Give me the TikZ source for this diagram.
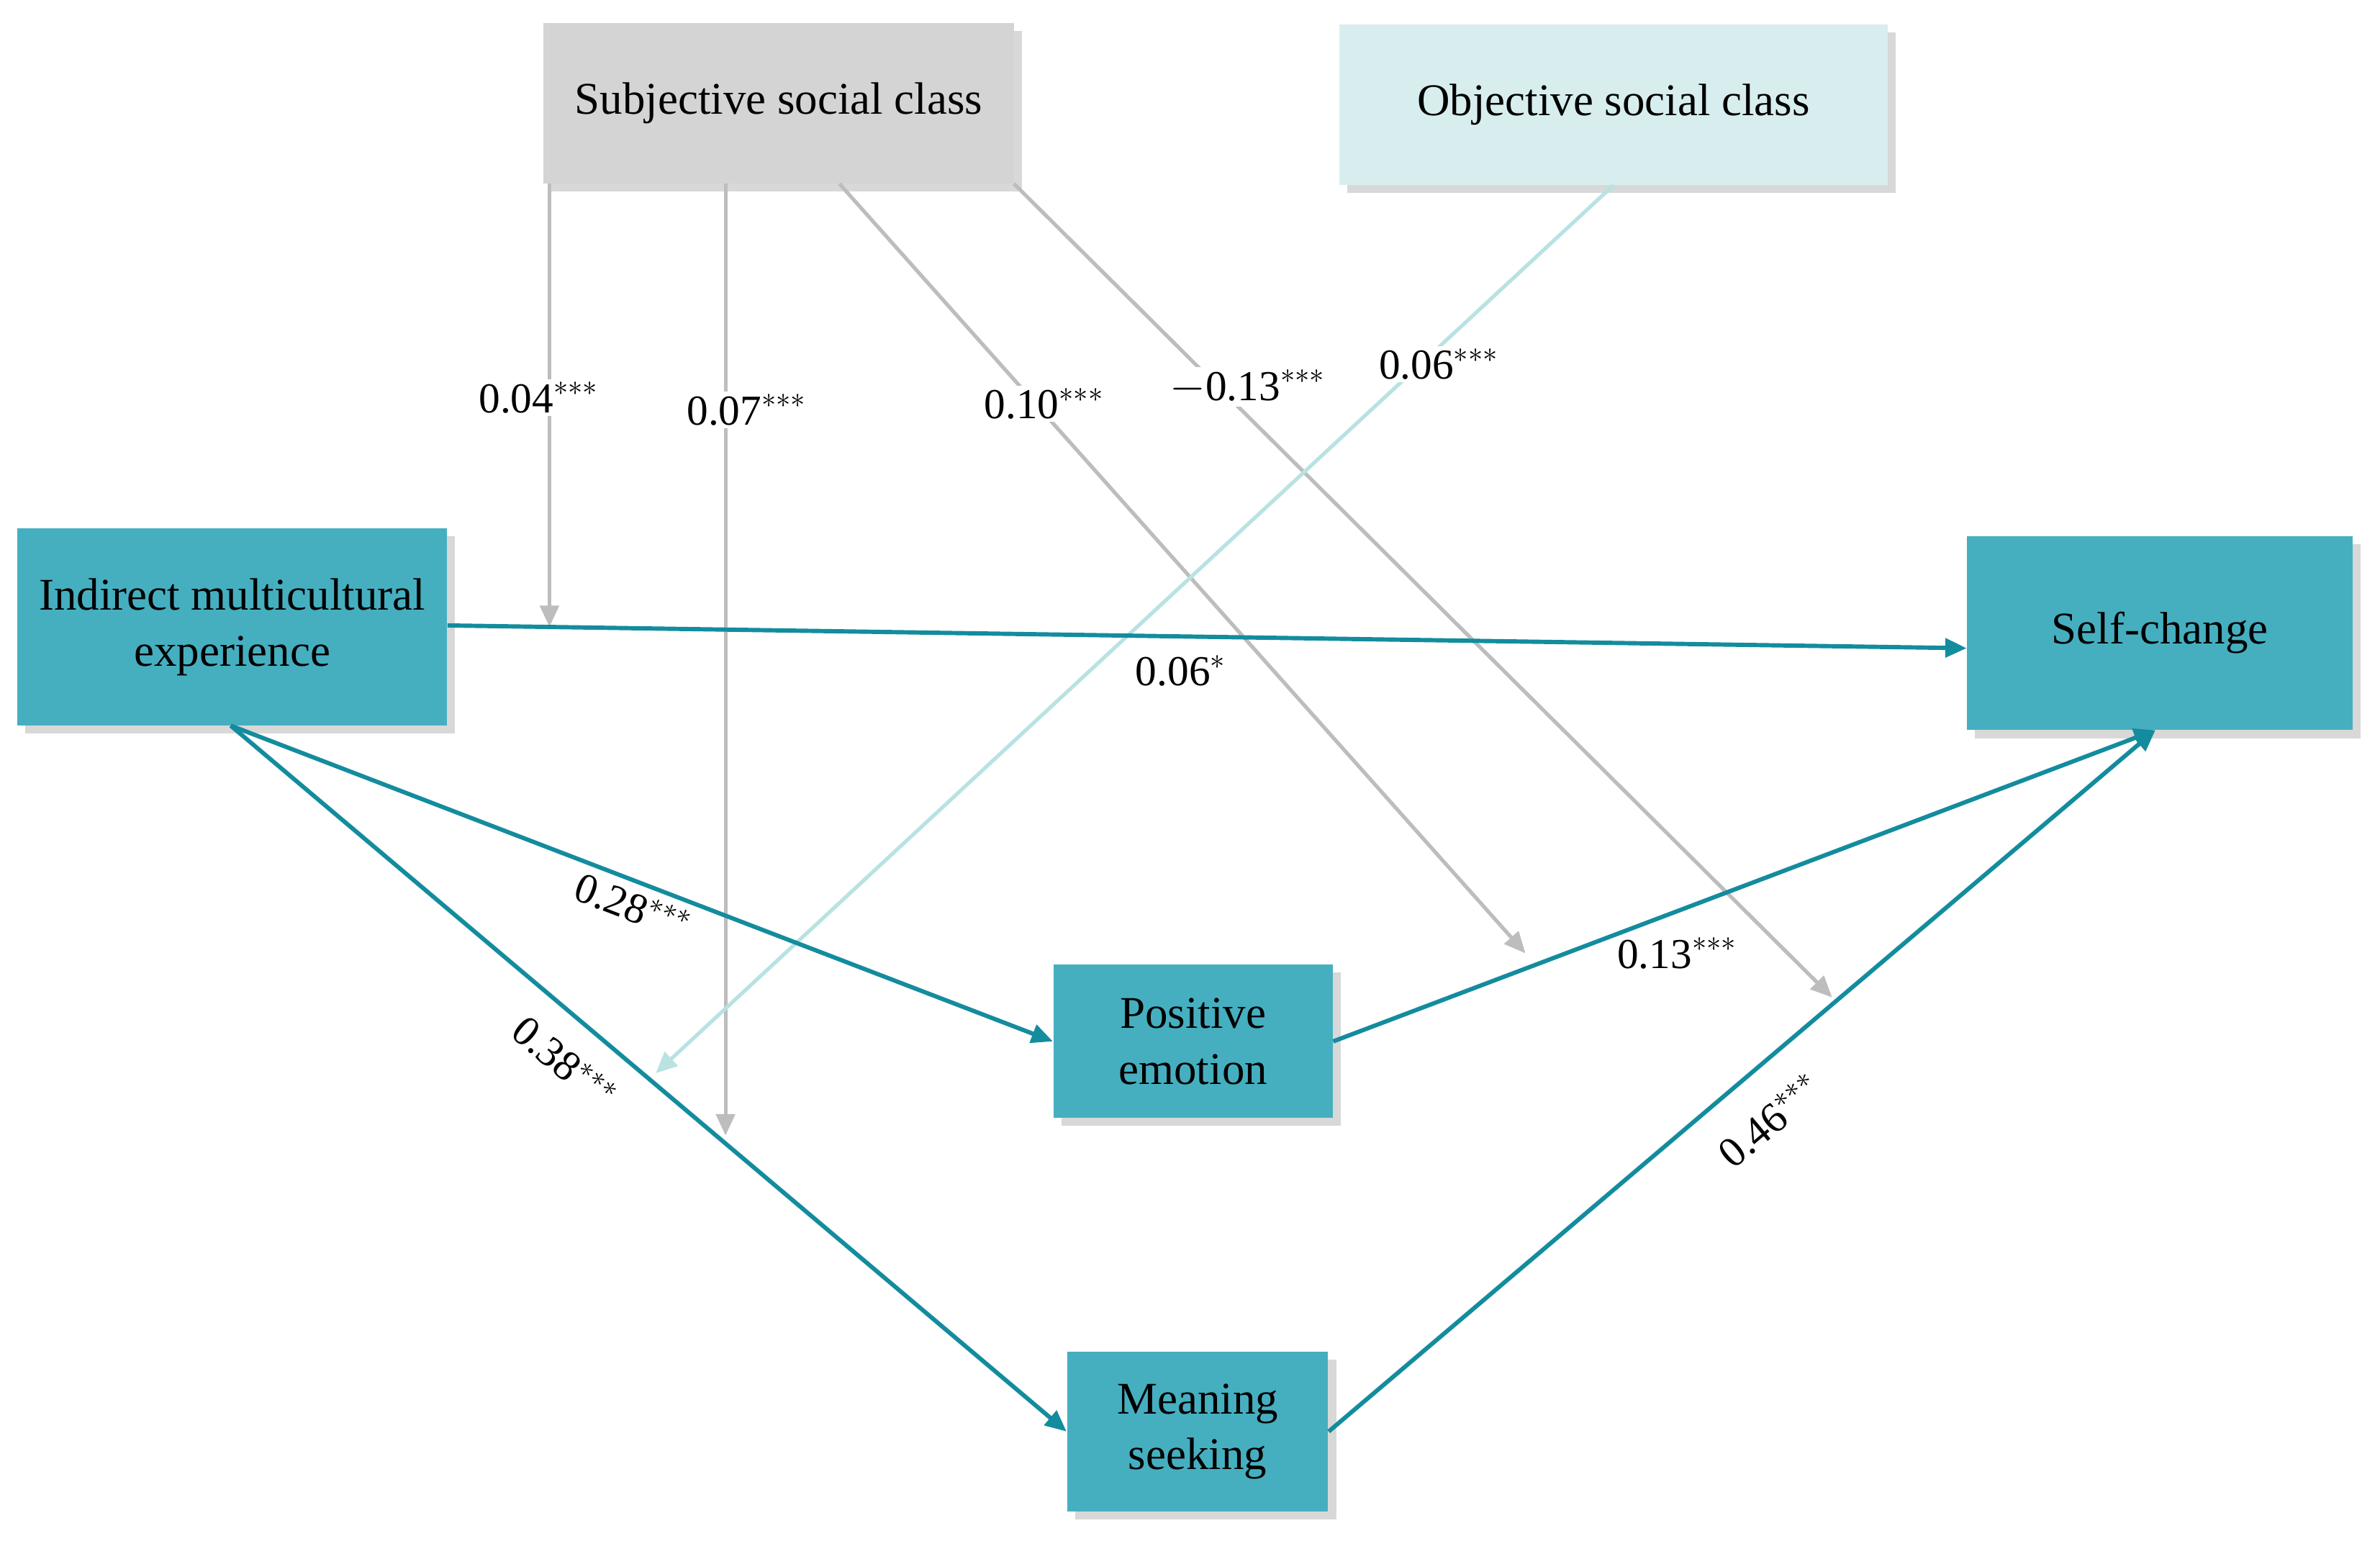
\documentclass[tikz,border=0pt]{standalone}
\usepackage{fontspec}
\setmainfont{Liberation Serif}
\usetikzlibrary{shadows,arrows.meta}
\definecolor{teal1}{HTML}{45AFC0}
\definecolor{tealline}{HTML}{138C9E}
\definecolor{gbox}{HTML}{D4D4D4}
\definecolor{obox}{HTML}{D8EEEE}
\definecolor{gline}{HTML}{BDBDBD}
\definecolor{oline}{HTML}{B9E2E2}
\begin{document}
\begin{tikzpicture}[x=0.02cm,y=-0.02cm,
 box/.style={draw=none,minimum width=#1,align=center,font=\fontsize{17}{21}\selectfont,drop shadow={shadow xshift=3pt,shadow yshift=-3pt,fill=black!30,opacity=0.5}},
 tarr/.style={draw=tealline,line width=1.6pt,-{Triangle[length=8pt,width=7pt]}},
 garr/.style={draw=gline,line width=1.4pt,-{Triangle[length=8pt,width=7pt]}},
 oarr/.style={draw=oline,line width=1.4pt,-{Triangle[length=8pt,width=7pt]}},
 lab/.style={fill=white,inner sep=1pt,font=\fontsize{16}{19}\selectfont},
 tlab/.style={font=\fontsize{16}{19}\selectfont}]
\useasboundingbox (0,0) rectangle (1568,1015);
\fill[white] (0,0) rectangle (1568,1015);
\node[box=310*0.02cm,minimum height=106*0.02cm,fill=gbox] (sub) at (513,68) {Subjective social class};
\node[box=361*0.02cm,minimum height=106*0.02cm,fill=obox] (obj) at (1063,69) {Objective social class};
\node[box=283*0.02cm,minimum height=130*0.02cm,fill=teal1] (ind) at (153,413) {Indirect multicultural\\experience};
\node[box=254*0.02cm,minimum height=128*0.02cm,fill=teal1] (sc) at (1423,417) {Self-change};
\node[box=184*0.02cm,minimum height=101*0.02cm,fill=teal1] (pe) at (786,686) {Positive\\emotion};
\node[box=172*0.02cm,minimum height=105*0.02cm,fill=teal1] (ms) at (789,943) {Meaning\\seeking};
\coordinate (s1) at (362,121); \coordinate (e1) at (362,413);
\coordinate (s2) at (478,121); \coordinate (e2) at (478,748);
\coordinate (s3) at (553,121); \coordinate (e3) at (1005,628);
\coordinate (s4) at (668,121); \coordinate (e4) at (1207,657);
\coordinate (s5) at (1063,122); \coordinate (e5) at (432,707);
\coordinate (ib) at (152,478); \coordinate (scb) at (1420,481);
\draw[garr] (s1) -- (e1);
\draw[garr] (s2) -- (e2);
\draw[garr] (s3) -- (e3);
\draw[garr] (s4) -- (e4);
\draw[oarr] (s5) -- (e5);
\node[lab] at (355,262) {0.04$^{***}$};
\node[lab] at (492,270) {0.07$^{***}$};
\node[lab] at (688,266) {0.10$^{***}$};
\node[lab] at (822,255) {$-$0.13$^{***}$};
\node[lab] at (948,240) {0.06$^{***}$};
\draw[tarr] (ind.east |- 0,412) -- (sc.west |- 0,427);
\draw[tarr] (ib) -- (pe.west);
\draw[tarr] (ib) -- (ms.west);
\draw[tarr] (pe.east) -- (scb);
\draw[tarr] (ms.east) -- (scb);
\node[tlab] at (778,442) {0.06$^{*}$};
\node[tlab,rotate=-21] at (417,597) {0.28$^{***}$};
\node[tlab,rotate=-40] at (372,700) {0.38$^{***}$};
\node[tlab] at (1105,628) {0.13$^{***}$};
\node[tlab,rotate=40] at (1166,738) {0.46$^{***}$};
\end{tikzpicture}
\end{document}
